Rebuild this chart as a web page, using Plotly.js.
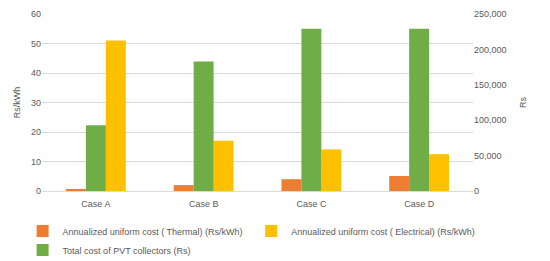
<!DOCTYPE html>
<html>
<head>
<meta charset="utf-8">
<script src="https://cdn.plot.ly/plotly-3.0.1.min.js"></script>
<style>html,body{margin:0;padding:0;background:#fff}#chart{width:550px;height:261px}</style>
</head>
<body>
<div id="chart"></div>
<script>
var categories = ["Case A", "Case B", "Case C", "Case D"];
var thermalCost = [0.7, 2.0, 4.0, 5.1];
var electricalCost = [51, 17, 14.1, 12.5];
var totalCost = [93000, 183000, 229000, 229000];
var seriesNames = [
  "Annualized uniform cost ( Thermal) (Rs/kWh)",
  "Annualized uniform cost ( Electrical) (Rs/kWh)",
  "Total cost of PVT collectors (Rs)"
];

var font = {family: "Liberation Sans, Arial, sans-serif", size: 9, color: "#595959"};
var bw = 0.185;

var traces = [
  {type: "bar", name: seriesNames[0], x: categories, y: thermalCost, yaxis: "y",
   marker: {color: "#ED7D31"}, width: bw, offset: -1.5 * bw},
  {type: "bar", name: seriesNames[1], x: categories, y: electricalCost, yaxis: "y",
   marker: {color: "#FFC000"}, width: bw, offset: 0.5 * bw},
  {type: "bar", name: seriesNames[2], x: categories, y: totalCost, yaxis: "y2",
   marker: {color: "#70AD47"}, width: bw, offset: -0.5 * bw}
];

var layout = {
  width: 550, height: 261,
  margin: {l: 42, r: 77, t: 14, b: 70, autoexpand: false},
  paper_bgcolor: "#fff", plot_bgcolor: "#fff",
  font: font,
  barmode: "overlay",
  showlegend: true,
  legend: {orientation: "h", x: -0.045, xanchor: "left", y: -0.144, yanchor: "top",
           font: {family: font.family, size: 9, color: "#595959"},
           itemwidth: 30, tracegroupgap: 0, traceorder: "normal", borderwidth: 0},
  xaxis: {type: "category", showgrid: false, showline: true, linecolor: "#d9d9d9",
          ticks: "", tickfont: font, range: [-0.5, 3.5], ticklabelstandoff: 4},
  yaxis: {range: [0, 60], dtick: 10, showgrid: true, gridcolor: "#d9d9d9",
          zeroline: false, showline: false, ticks: "", tickfont: font,
          title: {text: "Rs/kWh", font: font, standoff: 8}},
  yaxis2: {range: [0, 250000], dtick: 50000, tickformat: ",", overlaying: "y", side: "right",
           showgrid: false, zeroline: false, showline: false, ticks: "", tickfont: font,
           title: {text: "Rs", font: font, standoff: 14}}
};

Plotly.newPlot("chart", traces, layout, {displayModeBar: false, staticPlot: true});
</script>
</body>
</html>
